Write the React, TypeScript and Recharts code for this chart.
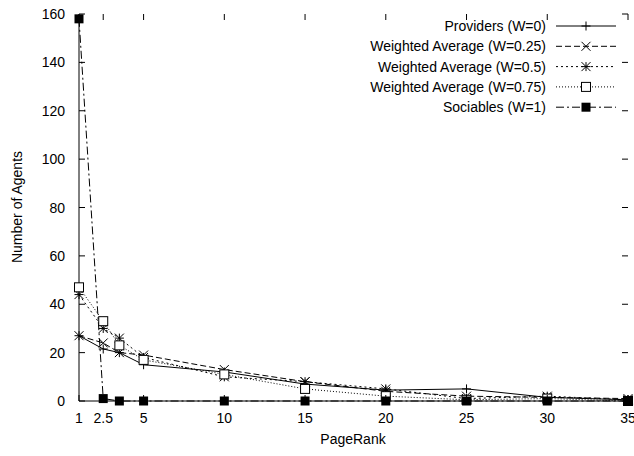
import { LineChart, Line, XAxis, YAxis, CartesianGrid } from 'recharts';

const PAGERANK = [1, 2.5, 3.5, 5, 10, 15, 20, 25, 30, 35];
const PROVIDERS = [27, 21.5, 20, 15, 12, 7, 4.5, 5, 1.5, 0.5];
const W025 = [27, 24, 20, 19, 13, 8, 4, 2, 1.5, 1];
const W050 = [44, 30, 26, 18, 10, 8, 5, 1, 2, 0.5];
const W075 = [47, 33, 23, 17, 11, 5, 2, 0.5, 1, 0];
const SOCIABLES = [158, 1, 0, 0, 0, 0, 0, 0, 0, 0];
const X_TICKS = [1, 2.5, 5, 10, 15, 20, 25, 30, 35];
const Y_TICKS = [0, 20, 40, 60, 80, 100, 120, 140, 160];

const FONT = '"Liberation Sans", Arial, sans-serif';

const data = PAGERANK.map((x, i) => ({
  x,
  p: PROVIDERS[i],
  a: W025[i],
  b: W050[i],
  c: W075[i],
  s: SOCIABLES[i],
}));

type Kind = 'plus' | 'cross' | 'star' | 'square' | 'fsquare';

function Marker({ cx, cy, kind }: { cx: number; cy: number; kind: Kind }) {
  const r = 4.5;
  const st = { stroke: '#000', strokeWidth: 1 };
  if (kind === 'plus')
    return <path d={`M${cx - r},${cy}H${cx + r}M${cx},${cy - r}V${cy + r}`} {...st} fill="none" />;
  if (kind === 'cross')
    return <path d={`M${cx - r},${cy - r}L${cx + r},${cy + r}M${cx - r},${cy + r}L${cx + r},${cy - r}`} {...st} fill="none" />;
  if (kind === 'star')
    return (
      <path
        d={`M${cx - r},${cy}H${cx + r}M${cx},${cy - r}V${cy + r}M${cx - r},${cy - r}L${cx + r},${cy + r}M${cx - r},${cy + r}L${cx + r},${cy - r}`}
        {...st}
        fill="none"
      />
    );
  if (kind === 'square')
    return <rect x={cx - r} y={cy - r} width={2 * r} height={2 * r} {...st} fill="#fff" />;
  return <rect x={cx - r} y={cy - r} width={2 * r} height={2 * r} fill="#000" />;
}

const SERIES: { key: string; name: string; dash?: string; kind: Kind }[] = [
  { key: 'p', name: 'Providers (W=0)', kind: 'plus' },
  { key: 'a', name: 'Weighted Average (W=0.25)', dash: '6 3', kind: 'cross' },
  { key: 'b', name: 'Weighted Average (W=0.5)', dash: '2 3', kind: 'star' },
  { key: 'c', name: 'Weighted Average (W=0.75)', dash: '1 2', kind: 'square' },
  { key: 's', name: 'Sociables (W=1)', dash: '8 3 2 3', kind: 'fsquare' },
];

function XTick({ x, y, payload }: any) {
  return (
    <g>
      <line x1={x} x2={x} y1={401} y2={395} stroke="#000" />
      <line x1={x} x2={x} y1={14} y2={20} stroke="#000" />
      <text x={x} y={y + 14} textAnchor="middle" fontSize={14} fontFamily={FONT}>
        {payload.value}
      </text>
    </g>
  );
}

function YTick({ x, y, payload }: any) {
  return (
    <g>
      <line x1={79} x2={85} y1={y} y2={y} stroke="#000" />
      <line x1={628} x2={622} y1={y} y2={y} stroke="#000" />
      <text x={x - 6} y={y + 5} textAnchor="end" fontSize={14} fontFamily={FONT}>
        {payload.value}
      </text>
    </g>
  );
}

export default function App() {
  return (
    <div style={{ position: 'absolute', left: 0, top: 0, width: 634, height: 456, background: '#fff' }}>
      <LineChart width={634} height={456} data={data} margin={{ top: 14, right: 6, bottom: 25, left: 0 }}>
        <CartesianGrid horizontal={false} vertical={false} />
        <XAxis
          dataKey="x"
          type="number"
          domain={[1, 35]}
          ticks={X_TICKS}
          interval={0}
          tick={<XTick />}
          tickLine={false}
          axisLine={{ stroke: '#000' }}
          height={30}
        />
        <YAxis
          domain={[0, 160]}
          ticks={Y_TICKS}
          interval={0}
          tick={<YTick />}
          tickLine={false}
          axisLine={{ stroke: '#000' }}
          width={79}
        />
        <XAxis xAxisId="top" orientation="top" dataKey="x" type="number" domain={[1, 35]} tick={false} tickLine={false} axisLine={{ stroke: '#000' }} height={0} />
        <YAxis yAxisId="right" orientation="right" domain={[0, 160]} tick={false} tickLine={false} axisLine={{ stroke: '#000' }} width={0} />
        {SERIES.map((s) => (
          <Line
            key={s.key}
            dataKey={s.key}
            name={s.name}
            type="linear"
            stroke="#000"
            strokeWidth={1}
            strokeDasharray={s.dash}
            isAnimationActive={false}
            dot={(p: any) => <Marker key={`${s.key}-${p.index}`} cx={p.cx} cy={p.cy} kind={s.kind} />}
          />
        ))}
        <text x={22} y={207} transform="rotate(-90 22 207)" textAnchor="middle" fontSize={14} fontFamily={FONT}>
          Number of Agents
        </text>
        <text x={353} y={444} textAnchor="middle" fontSize={14} fontFamily={FONT}>
          PageRank
        </text>
        {SERIES.map((s, i) => {
          const y = 26 + i * 20.3;
          return (
            <g key={`lg-${s.key}`}>
              <text x={546} y={y + 5} textAnchor="end" fontSize={14} fontFamily={FONT}>
                {s.name}
              </text>
              <line x1={556} x2={616} y1={y} y2={y} stroke="#000" strokeDasharray={s.dash} />
              <Marker cx={586} cy={y} kind={s.kind} />
            </g>
          );
        })}
      </LineChart>
    </div>
  );
}
